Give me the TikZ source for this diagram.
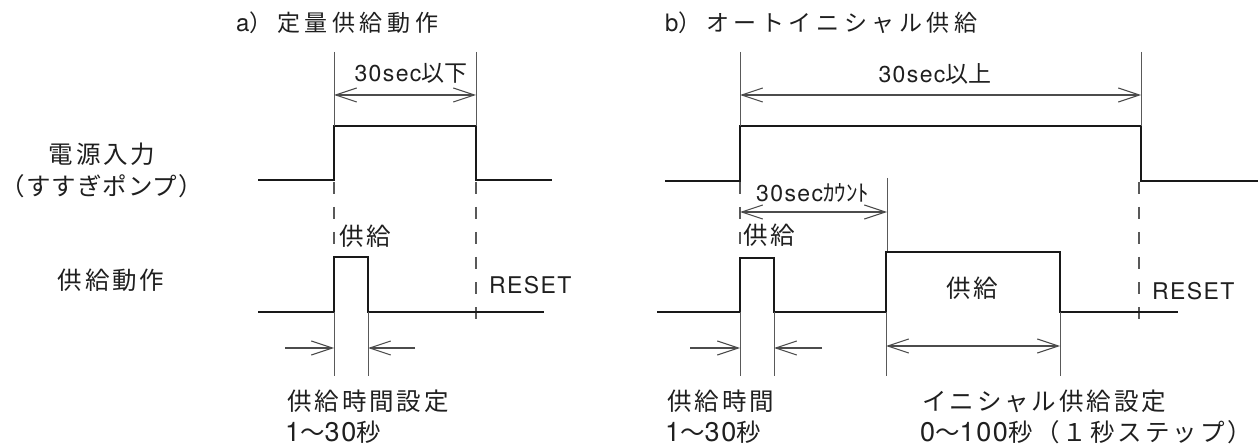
\documentclass[tikz,border=0pt]{standalone}
\usepackage{fontspec}
\setmainfont{TeX Gyre Heros}[LetterSpace=6]
\newfontfamily\jp{Noto Sans CJK JP}[LetterSpace=12]
\newfontfamily\jpp{Noto Sans CJK JP}[LetterSpace=4]
\newfontfamily\jpt{Noto Sans CJK JP}[LetterSpace=20]
\newfontfamily\jpn{Noto Sans CJK JP}
\usetikzlibrary{arrows.meta}
\newcommand\numtxt[1]{{\fontsize{27}{30}\selectfont\rmfamily #1}}
\begin{document}
\begin{tikzpicture}[x=1pt,y=-1pt,
  >={Straight Barb[length=21pt,width=14pt]},
  sig/.style={line width=2.6pt, line join=miter, black!90},
  thinln/.style={line width=1pt, black!65},
  dsh/.style={line width=1.1pt, black!65, dash pattern=on 12pt off 13pt},
  dim/.style={line width=1.1pt, black!70},
  jpl/.style={inner sep=0pt, text=black!88, font=\fontsize{24.5}{28}\selectfont\jp},
  ttl/.style={inner sep=0pt, text=black!88, font=\fontsize{23}{28}\selectfont\jpt},
  lat/.style={inner sep=0pt, text=black!88, font=\fontsize{23}{28}\selectfont\rmfamily},
]
\useasboundingbox (0,0) rectangle (1260,446);

% titles
\node[ttl, anchor=base west] (ta) at (236,32) {{\fontsize{24}{28}\selectfont\rmfamily a}）定量供給動作};
\node[ttl, anchor=base west] (tb) at (665,32) {{\fontsize{24}{28}\selectfont\rmfamily b}）オートイニシャル供給};

% left labels
\node[jpl, anchor=base] (l1) at (102,164) {電源入力};
\node[jpl, anchor=base west, font=\fontsize{24.5}{28}\selectfont\jpp] (l2) at (0.5,196) {（すすぎポンプ）};
\node[jpl, anchor=base] (l3) at (111,289) {供給動作};

% ---------- panel a ----------
\draw[sig] (258,180) -- (334,180) -- (334,126) -- (476,126) -- (476,180) -- (552,180);
\draw[thinln] (334,52) -- (334,126) (476,52) -- (476,126);
\draw[dsh] (334,182) -- (334,257) (476,182) -- (476,330);
\draw[dim,<->] (334,95) -- (476,95);
\node[lat, anchor=base] (da) at (411,82) {30sec{\jpn 以下}};
\draw[sig] (258,312) -- (334,312) -- (334,257) -- (368,257) -- (368,312) -- (544,312);
\draw[thinln] (334,312) -- (334,376) (368,312) -- (368,376);
\draw[dim,->] (285,348) -- (334,348);
\draw[dim,->] (415,348) -- (368,348);
\node[jpl, anchor=base west] (sa) at (339,246) {供給};
\node[lat, anchor=base west] (ra) at (489,294) {RESET};
\node[jpl, anchor=base west] (la1) at (287,410) {供給時間設定};
\node[jpl, anchor=base west] (la2) at (285,441) {\numtxt{1}～\numtxt{30}秒};

% ---------- panel b ----------
\draw[sig] (665,181) -- (740,181) -- (740,126) -- (1141,126) -- (1141,181) -- (1258,181);
\draw[thinln] (740,52) -- (740,126) (1141,52) -- (1141,126);
\draw[dsh] (740,182) -- (740,258) (1139,182) -- (1139,330);
\draw[dim,<->] (740,95) -- (1141,95);
\node[lat, anchor=base] (db) at (935,83) {30sec{\jpn 以上}};
\draw[dim,<->] (740,212) -- (887,212);
\draw[thinln] (887,178) -- (887,252);
\node[lat, anchor=base west] (dc) at (756,202) {30sec{\jpn ｶｳﾝﾄ}};
\draw[sig] (657,312) -- (740,312) -- (740,258) -- (774,258) -- (774,312) -- (886,312) -- (886,252) -- (1060,252) -- (1060,312) -- (1178,312);
\draw[thinln] (740,312) -- (740,376) (774,312) -- (774,376) (886,312) -- (886,376) (1060,312) -- (1060,376);
\draw[dim,->] (690,348) -- (740,348);
\draw[dim,->] (822,348) -- (774,348);
\draw[dim,<->] (886,346) -- (1060,346);
\node[jpl, anchor=base west] (sb) at (743,245) {供給};
\node[jpl, anchor=base] (sb2) at (972,297) {供給};
\node[lat, anchor=base west] (rb) at (1152,299) {RESET};
\node[jpl, anchor=base west] (lb1) at (667,410) {供給時間};
\node[jpl, anchor=base west] (lb2) at (665,441) {\numtxt{1}～\numtxt{30}秒};
\node[jpl, anchor=base west] (lb3) at (922,410) {イニシャル供給設定};
\node[jpl, anchor=base west] (lb4) at (920,441) {\numtxt{0}～\numtxt{100}秒（１秒ステップ）};
\end{tikzpicture}
\end{document}
